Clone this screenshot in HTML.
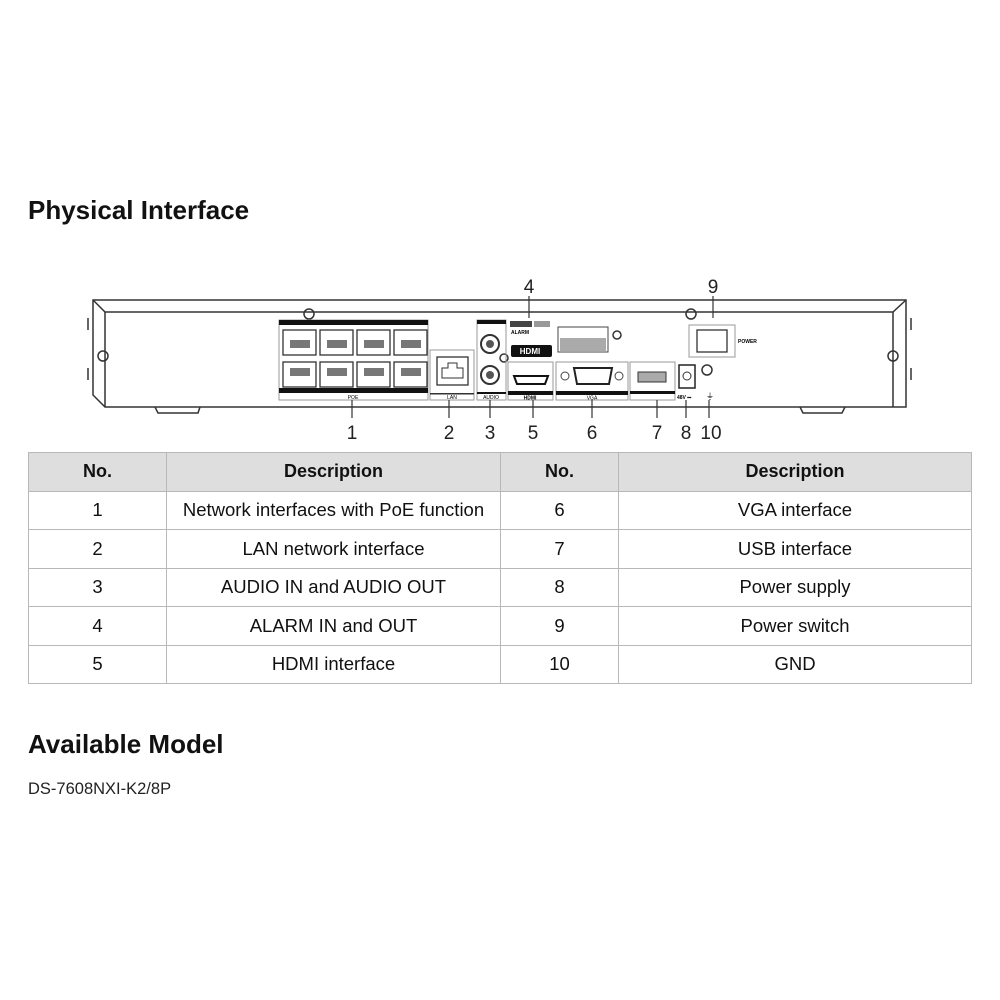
<!DOCTYPE html>
<html><head><meta charset="utf-8"><style>
body{margin:0;background:#fff;width:1000px;height:1000px;position:relative;overflow:hidden;font-family:"Liberation Sans",sans-serif}
.t{position:absolute;left:28px;font-weight:bold;font-size:26px;color:#111}
table{position:absolute;left:28px;top:452px;width:944px;border-collapse:collapse;font-size:18.5px;color:#111}
td{border:1px solid #b8b8b8;text-align:center;height:37.5px;padding:0}
tr.h td{background:#dedede;font-weight:bold;font-size:18px}
</style></head><body>
<div class="t" style="top:195px">Physical Interface</div>
<svg width="1000" height="450" style="position:absolute;left:0;top:0" font-family="Liberation Sans,sans-serif">
<g fill="none" stroke="#333" stroke-width="1.5">
<path d="M93 300 L906 300 L906 407 L105 407 L93 395 Z"/>
<path d="M93 300 L105 312 L893 312 L906 300"/>
<line x1="105" y1="312" x2="105" y2="407"/>
<line x1="893" y1="312" x2="893" y2="407"/>
<path d="M155 407 L158 413 L198 413 L200 407"/>
<path d="M800 407 L803 413 L842 413 L845 407"/>
<circle cx="103" cy="356" r="5"/><circle cx="309" cy="314" r="5"/><circle cx="691" cy="314" r="5"/><circle cx="893" cy="356" r="5"/><circle cx="617" cy="335" r="4"/><circle cx="707" cy="370" r="5"/><circle cx="504" cy="358" r="4"/>
<path d="M88 318v12M88 368v12M911 318v12M911 368v12"/>
</g>
<rect x="279" y="320" width="149" height="80" fill="none" stroke="#999"/>
<rect x="279" y="320" width="149" height="5" fill="#111"/>
<rect x="279" y="388" width="149" height="5" fill="#111"/>
<text x="353" y="399" font-size="5" text-anchor="middle">POE</text>
<g fill="none" stroke="#333" stroke-width="1.3">
<rect x="283" y="330" width="33" height="25"/><rect x="320" y="330" width="33" height="25"/><rect x="357" y="330" width="33" height="25"/><rect x="394" y="330" width="33" height="25"/>
<rect x="283" y="362" width="33" height="25"/><rect x="320" y="362" width="33" height="25"/><rect x="357" y="362" width="33" height="25"/><rect x="394" y="362" width="33" height="25"/>
</g>
<g fill="#777"><rect x="290" y="340" width="20" height="8"/><rect x="327" y="340" width="20" height="8"/><rect x="364" y="340" width="20" height="8"/><rect x="401" y="340" width="20" height="8"/>
<rect x="290" y="368" width="20" height="8"/><rect x="327" y="368" width="20" height="8"/><rect x="364" y="368" width="20" height="8"/><rect x="401" y="368" width="20" height="8"/></g>
<rect x="430" y="350" width="44" height="50" fill="none" stroke="#999"/>
<rect x="437" y="357" width="31" height="28" fill="none" stroke="#333" stroke-width="1.3"/>
<path d="M442 378v-10h6v-5h9v5h6v10z" fill="none" stroke="#333"/>
<rect x="430" y="393" width="44" height="1.5" fill="#333"/>
<text x="452" y="399" font-size="5" text-anchor="middle">LAN</text>
<rect x="477" y="320" width="29" height="80" fill="none" stroke="#999"/>
<rect x="477" y="320" width="29" height="4" fill="#111"/><rect x="477" y="392" width="29" height="2" fill="#111"/>
<circle cx="490" cy="344" r="9" fill="none" stroke="#333" stroke-width="2"/><circle cx="490" cy="344" r="4" fill="#555"/>
<circle cx="490" cy="375" r="9" fill="none" stroke="#333" stroke-width="2"/><circle cx="490" cy="375" r="4" fill="#555"/>
<text x="491" y="399" font-size="5" text-anchor="middle">AUDIO</text>
<rect x="510" y="321" width="22" height="6" fill="#444"/><rect x="534" y="321" width="16" height="6" fill="#999"/>
<text x="511" y="334" font-size="5" font-weight="bold">ALARM</text>
<rect x="511" y="345" width="41" height="12" rx="2" fill="#111"/>
<text x="530" y="354" font-size="8" fill="#fff" text-anchor="middle" font-weight="bold">HDMI</text>
<rect x="558" y="327" width="50" height="25" fill="none" stroke="#444"/>
<rect x="560" y="338" width="46" height="13" fill="#aaa"/>
<rect x="508" y="362" width="45" height="38" fill="none" stroke="#999"/>
<path d="M514 376h34l-3 8h-28z" fill="#fff" stroke="#111" stroke-width="2"/>
<rect x="508" y="391" width="45" height="4" fill="#111"/>
<text x="530" y="399.5" font-size="5" text-anchor="middle" font-weight="bold">HDMI</text>
<rect x="556" y="362" width="72" height="38" fill="none" stroke="#999"/>
<path d="M574 368h38l-3 16h-32z" fill="#fff" stroke="#222" stroke-width="2"/>
<circle cx="565" cy="376" r="4" fill="none" stroke="#444"/><circle cx="619" cy="376" r="4" fill="none" stroke="#444"/>
<rect x="556" y="391" width="72" height="4" fill="#111"/>
<text x="592" y="399.5" font-size="5" text-anchor="middle">VGA</text>
<rect x="630" y="362" width="45" height="38" fill="none" stroke="#999"/>
<rect x="638" y="372" width="28" height="10" fill="#aaa" stroke="#333"/>
<rect x="630" y="391" width="45" height="3" fill="#111"/>
<rect x="679" y="365" width="16" height="23" fill="#fff" stroke="#222" stroke-width="1.5"/>
<circle cx="687" cy="376" r="4" fill="none" stroke="#333"/>
<text x="677" y="399" font-size="5" font-weight="bold">48V ⎓</text>
<text x="706" y="399" font-size="8">⏚</text>
<rect x="689" y="325" width="46" height="32" fill="none" stroke="#999"/>
<rect x="697" y="330" width="30" height="22" fill="none" stroke="#333" stroke-width="1.3"/>
<text x="738" y="343" font-size="5" font-weight="bold">POWER</text>
<g stroke="#333" stroke-width="1.2">
<line x1="352" y1="400" x2="352" y2="418"/><line x1="449" y1="400" x2="449" y2="418"/><line x1="490" y1="400" x2="490" y2="418"/><line x1="533" y1="400" x2="533" y2="418"/><line x1="592" y1="400" x2="592" y2="418"/><line x1="657" y1="400" x2="657" y2="418"/><line x1="686" y1="400" x2="686" y2="418"/><line x1="709" y1="400" x2="709" y2="418"/>
<line x1="529" y1="296" x2="529" y2="318"/><line x1="713" y1="296" x2="713" y2="318"/>
</g>
<g font-size="19" fill="#222" text-anchor="middle">
<text x="352" y="439">1</text><text x="449" y="439">2</text><text x="490" y="439">3</text><text x="533" y="439">5</text><text x="592" y="439">6</text><text x="657" y="439">7</text><text x="686" y="439">8</text><text x="711" y="439">10</text>
<text x="529" y="293">4</text><text x="713" y="293">9</text>
</g>
</svg>
<table>
<colgroup><col style="width:138px"><col style="width:334px"><col style="width:118px"><col></colgroup>
<tr class="h"><td>No.</td><td>Description</td><td>No.</td><td>Description</td></tr>
<tr><td>1</td><td>Network interfaces with PoE function</td><td>6</td><td>VGA interface</td></tr>
<tr><td>2</td><td>LAN network interface</td><td>7</td><td>USB interface</td></tr>
<tr><td>3</td><td>AUDIO IN and AUDIO OUT</td><td>8</td><td>Power supply</td></tr>
<tr><td>4</td><td>ALARM IN and OUT</td><td>9</td><td>Power switch</td></tr>
<tr><td>5</td><td>HDMI interface</td><td>10</td><td>GND</td></tr>
</table>
<div class="t" style="top:729px">Available Model</div>
<div style="position:absolute;left:28px;top:780px;font-size:16.5px;color:#222">DS-7608NXI-K2/8P</div>
</body></html>
